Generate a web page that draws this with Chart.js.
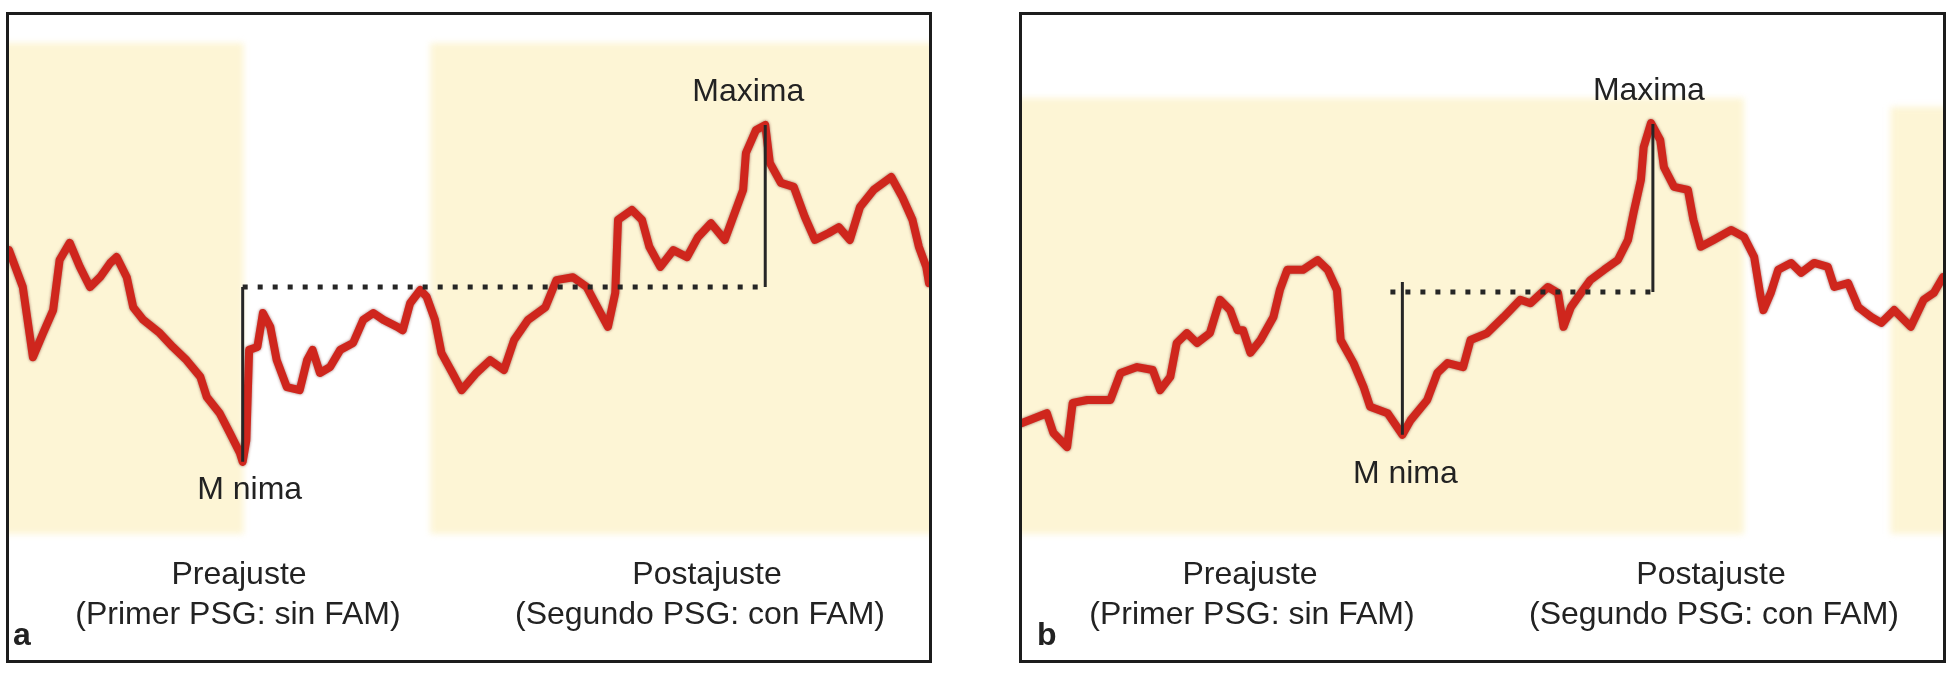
<!DOCTYPE html>
<html>
<head>
<meta charset="utf-8">
<script src="https://cdn.jsdelivr.net/npm/chart.js@4.4.1/dist/chart.umd.min.js"></script>
<style>
html,body{margin:0;padding:0;background:#fff;}
body{width:1958px;height:675px;position:relative;overflow:hidden;}
.panel{position:absolute;top:12px;height:645px;border:3px solid #1c1c1c;}
#pa{left:6px;width:920px;}
#pb{left:1019px;width:921px;}
canvas{display:block;}
</style>
</head>
<body>
<div class="panel" id="pa"><canvas id="ca" width="920" height="645"></canvas></div>
<div class="panel" id="pb"><canvas id="cb" width="921" height="645"></canvas></div>
<script>
// ---------- Panel a data ----------
const timeA = [0.0,1.5,2.6,3.7,4.8,5.5,6.6,7.7,8.8,9.9,11.0,11.7,12.8,13.5,14.6,16.4,17.8,19.3,20.8,21.5,22.9,24.0,25.1,25.4,25.8,26.1,27.0,27.6,28.4,29.1,30.2,31.6,32.4,33.0,33.8,34.9,36.0,37.4,38.5,39.6,40.7,42.2,42.8,43.6,44.7,45.4,46.3,47.0,48.2,49.2,50.8,52.3,53.8,54.9,56.4,58.3,59.5,61.3,62.8,64.3,65.1,65.9,66.2,67.7,68.8,69.6,70.8,72.2,73.7,74.9,76.3,77.8,78.6,79.8,80.1,81.2,82.2,82.7,83.9,85.3,86.5,87.6,89.1,90.2,91.4,92.5,94.0,95.9,97.1,98.2,98.9,99.7,100.0];
const valuesA = [57.8,50.3,36.0,40.9,45.6,55.8,59.3,54.4,50.3,52.3,55.2,56.4,52.3,46.2,43.6,40.9,38.1,35.4,32.0,27.9,24.6,20.6,16.5,14.7,19.1,37.5,38.1,45.0,42.2,35.4,29.9,29.3,35.4,37.5,32.8,34.0,37.5,38.9,43.6,45.0,43.6,42.2,41.5,47.0,49.7,48.3,43.6,36.9,32.8,29.3,32.8,35.4,33.4,39.5,43.6,46.2,51.7,52.3,50.3,45.0,42.2,49.1,64.0,66.0,64.0,58.5,54.4,57.8,56.4,60.5,63.3,59.9,64.0,70.1,77.6,82.3,83.3,75.6,71.5,70.7,64.6,59.9,61.3,62.5,59.9,66.6,70.1,72.7,68.6,64.0,58.5,54.4,51.1];
const bandsA = [[-5,25.5,0,100],[45.8,105,0,100]];           // shaded periods [x0,x1,y0,y1]
const minPointA = [25.4,14.7];
const maxPointA = [82.2,83.3];
const levelA = 50.3;            // dotted reference level
const minTopA = 50.3;           // top of the "Minima" bar
const dotSpanA = [25.4,82.2];

// ---------- Panel b data ----------
const timeB = [0.0,2.7,3.4,4.9,5.5,7.1,9.6,10.7,12.5,14.2,15.0,16.1,16.8,17.9,19.0,20.4,21.5,22.6,23.4,24.0,24.8,25.9,27.3,28.0,28.8,30.5,32.1,33.2,34.2,34.6,36.0,37.1,37.8,39.7,41.3,42.2,44.0,45.1,46.2,47.9,48.7,50.5,52.3,54.1,55.2,57.1,58.2,58.8,59.6,60.7,61.7,63.2,64.7,65.8,66.4,67.2,67.5,68.3,69.3,69.7,70.8,72.3,72.9,73.7,75.1,77.0,78.4,79.5,80.2,80.5,81.3,82.1,83.5,84.6,86.0,87.5,88.2,89.7,90.8,92.2,93.3,94.7,96.5,97.9,99.0,100.0];
const valuesB = [22.6,24.6,20.6,17.7,26.7,27.3,27.3,32.8,34.0,33.4,29.3,32.0,38.9,40.9,38.9,40.9,47.7,45.6,41.5,41.5,36.9,39.5,44.2,49.7,53.8,53.8,55.8,53.8,49.7,39.5,34.8,29.9,25.9,24.6,20.2,23.2,27.3,32.8,34.8,34.0,39.5,40.9,44.2,47.7,47.0,50.3,49.1,42.2,46.2,49.1,51.7,53.8,55.8,59.9,65.4,72.1,78.8,83.7,80.2,74.7,70.7,70.1,64.0,58.5,59.9,61.9,60.5,56.4,48.3,45.6,49.1,53.8,55.2,53.2,55.2,54.4,50.3,51.1,46.2,44.2,43.0,45.6,42.2,47.7,49.1,52.3];
const bandsB = [[-5,78.4,0,88.8],[94.3,105,0,87.0]];
const minPointB = [41.3,20.2];
const maxPointB = [68.5,83.5];
const levelB = 49.3;
const minTopB = 51.3;
const dotSpanB = [40.0,69.0];

// ---------- Text ----------
const extremeLabels = ['Maxima','M nima'];
const phaseLabels = [['Preajuste','(Primer PSG: sin FAM)'],['Postajuste','(Segundo PSG: con FAM)']];
const panelLetters = ['a','b'];

// ---------- layout (pixels, not data) ----------
const layoutA = {maxOff:[-17,-24], minOff:[7,37], phaseX:[[230,229],[698,691]], letterX:4};
const layoutB = {maxOff:[-4,-24], minOff:[3,48], phaseX:[[228,230],[689,692]], letterX:15};

const TEXT = '#222222';
const FONT = '"Liberation Sans", Arial, sans-serif';

function decor(cfg){
  return {
    id:'decor'+cfg.letter,
    beforeDatasetsDraw(chart){
      const {ctx, scales:{x,y}} = chart;
      ctx.save();
      ctx.filter = 'blur(3px)';
      ctx.fillStyle = '#fdf5d5';
      cfg.bands.forEach(b=>{
        const x0 = x.getPixelForValue(b[0]), x1 = x.getPixelForValue(b[1]);
        const yt = y.getPixelForValue(b[3]), yb = y.getPixelForValue(b[2]);
        ctx.fillRect(x0, yt, x1-x0, yb-yt);
      });
      ctx.restore();
    },
    beforeDatasetDraw(chart){
      const ctx = chart.ctx;
      ctx.save();
      ctx.shadowColor = 'rgba(95,12,6,0.6)';
      ctx.shadowBlur = 3;
    },
    afterDatasetDraw(chart){
      chart.ctx.restore();
    },
    afterDatasetsDraw(chart){
      const {ctx, scales:{x,y}} = chart;
      const xp = v => x.getPixelForValue(v), yp = v => y.getPixelForValue(v);
      ctx.save();
      ctx.strokeStyle = '#262626';
      ctx.lineWidth = 3;
      ctx.beginPath();
      ctx.moveTo(xp(cfg.minPt[0]), yp(cfg.minPt[1]));
      ctx.lineTo(xp(cfg.minPt[0]), yp(cfg.minTop));
      ctx.moveTo(xp(cfg.maxPt[0]), yp(cfg.level));
      ctx.lineTo(xp(cfg.maxPt[0]), yp(cfg.maxPt[1]));
      ctx.stroke();
      ctx.setLineDash([5,10]);
      ctx.lineWidth = 5;
      ctx.beginPath();
      ctx.moveTo(xp(cfg.dot[0]), yp(cfg.level));
      ctx.lineTo(xp(cfg.dot[1]), yp(cfg.level));
      ctx.stroke();
      ctx.setLineDash([]);
      // labels
      ctx.fillStyle = TEXT;
      ctx.font = '32px ' + FONT;
      ctx.textAlign = 'center';
      ctx.textBaseline = 'alphabetic';
      const L = cfg.layout;
      ctx.fillText(extremeLabels[0], xp(cfg.maxPt[0]) + L.maxOff[0], yp(cfg.maxPt[1]) + L.maxOff[1]);
      ctx.fillText(extremeLabels[1], xp(cfg.minPt[0]) + L.minOff[0], yp(cfg.minPt[1]) + L.minOff[1]);
      phaseLabels.forEach((pair,i)=>{
        ctx.fillText(pair[0], L.phaseX[i][0], 569);
        ctx.fillText(pair[1], L.phaseX[i][1], 609);
      });
      ctx.textAlign = 'left';
      ctx.font = 'bold 32px ' + FONT;
      ctx.fillText(cfg.letter, L.letterX, 630);
      ctx.restore();
    }
  };
}

function build(id, times, values, cfg){
  const pts = times.map((t,i)=>({x:t, y:values[i]}));
  return new Chart(document.getElementById(id), {
    type:'line',
    data:{datasets:[{
      data: pts,
      borderColor:'#cf261d',
      borderWidth:8,
      pointRadius:0,
      tension:0,
      borderJoinStyle:'round',
      borderCapStyle:'round',
      fill:false
    }]},
    options:{
      responsive:false,
      devicePixelRatio:1,
      animation:false,
      layout:{padding:{left:0,right:0,top:28,bottom:126}},
      scales:{
        x:{type:'linear', min:0, max:100, display:false},
        y:{type:'linear', min:0, max:100, display:false}
      },
      plugins:{legend:{display:false}, tooltip:{enabled:false}}
    },
    plugins:[decor(cfg)]
  });
}

build('ca', timeA, valuesA, {letter:panelLetters[0], bands:bandsA, minPt:minPointA, maxPt:maxPointA, level:levelA, minTop:minTopA, dot:dotSpanA, layout:layoutA});
build('cb', timeB, valuesB, {letter:panelLetters[1], bands:bandsB, minPt:minPointB, maxPt:maxPointB, level:levelB, minTop:minTopB, dot:dotSpanB, layout:layoutB});
</script>
</body>
</html>
